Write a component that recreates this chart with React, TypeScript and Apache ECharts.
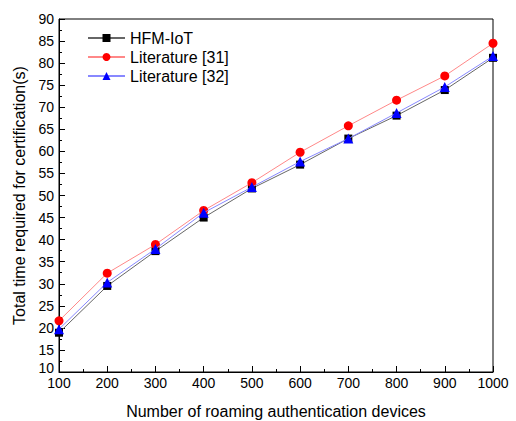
import React, { useEffect, useRef } from "react";
import * as echarts from "echarts";

const devices = [100, 200, 300, 400, 500, 600, 700, 800, 900, 1000];
const hfmIoT = [18.9, 29.5, 37.4, 45.0, 51.6, 57.0, 62.9, 68.1, 73.9, 81.2];
const lit31 = [21.6, 32.4, 38.9, 46.6, 52.9, 59.8, 65.8, 71.6, 77.1, 84.5];
const lit32 = [19.7, 30.3, 37.9, 46.1, 51.9, 57.7, 62.9, 68.7, 74.6, 81.6];

const seriesNames = ["HFM-IoT", "Literature [31]", "Literature [32]"];
const xTitle = "Number of roaming authentication devices";
const yTitle = "Total time required for certification(s)";

export default function App() {
  const ref = useRef<HTMLDivElement>(null);
  useEffect(() => {
    if (!ref.current) return;
    const chart = echarts.init(ref.current, null, { renderer: "svg" });
    const pair = (arr: number[]) => devices.map((d, i) => [d, arr[i]]);
    const font = "Arial, 'Liberation Sans', sans-serif";
    chart.setOption({
      animation: false,
      textStyle: { fontFamily: font },
      grid: {
        left: 59,
        right: 23,
        top: 19,
        bottom: 49,
        show: true,
        borderColor: "#000",
        borderWidth: 1,
        outerBoundsMode: "none",
        containLabel: false,
      },
      legend: {
        orient: "vertical",
        left: 82,
        top: 25,
        itemGap: 3,
        itemWidth: 37,
        itemHeight: 10,
        textStyle: { fontSize: 16, color: "#000", fontFamily: font },
        data: seriesNames,
      },
      xAxis: {
        type: "value",
        min: 100,
        max: 1000,
        interval: 100,
        name: xTitle,
        nameLocation: "middle",
        nameGap: 31,
        nameTextStyle: { fontSize: 16, color: "#000" },
        axisLine: { lineStyle: { color: "#000" } },
        axisTick: { inside: true, length: 6, lineStyle: { color: "#000" } },
        minorTick: { show: true, splitNumber: 2, length: 3, lineStyle: { color: "#000" } },
        axisLabel: { fontSize: 14, color: "#000", margin: 4, formatter: (v: number) => String(v) },
        splitLine: { show: false },
      },
      yAxis: {
        type: "value",
        min: 10,
        max: 90,
        interval: 5,
        name: yTitle,
        nameLocation: "middle",
        nameGap: 31,
        nameTextStyle: { fontSize: 16, color: "#000" },
        axisLine: { show: true, lineStyle: { color: "#000" } },
        axisTick: { show: true, inside: true, length: 6, lineStyle: { color: "#000" } },
        minorTick: { show: true, splitNumber: 2, length: 3, lineStyle: { color: "#000" } },
        axisLabel: {
          fontSize: 14,
          color: "#000",
          margin: 5,
          formatter: (v: number) => (v === 10 ? `{lo|${v}}` : String(v)),
          rich: { lo: { fontSize: 14, color: "#000", padding: [0, 0, 9, 0] } },
        },
        splitLine: { show: false },
      },
      series: [
        {
          name: seriesNames[0],
          type: "line",
          data: pair(hfmIoT),
          symbol: "rect",
          symbolSize: 8,
          itemStyle: { color: "#000" },
          lineStyle: { color: "#666", width: 1 },
          z: 3,
        },
        {
          name: seriesNames[1],
          type: "line",
          data: pair(lit31),
          symbol: "circle",
          symbolSize: 9,
          itemStyle: { color: "#ff0000" },
          lineStyle: { color: "#ff8888", width: 1 },
          z: 4,
        },
        {
          name: seriesNames[2],
          type: "line",
          data: pair(lit32),
          symbol: "triangle",
          symbolSize: 10,
          itemStyle: { color: "#0000ff" },
          lineStyle: { color: "#8888ff", width: 1 },
          z: 5,
        },
      ],
    });
    return () => chart.dispose();
  }, []);
  return (
    <div
      ref={ref}
      style={{ position: "fixed", left: 0, top: 0, width: 516, height: 421, background: "#fff" }}
    />
  );
}
